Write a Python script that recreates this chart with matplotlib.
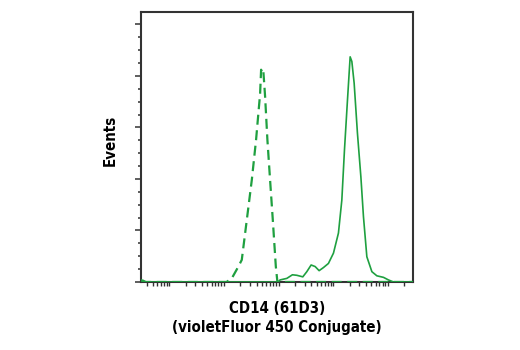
import numpy as np
import matplotlib
matplotlib.use("Agg")
import matplotlib.pyplot as plt
from matplotlib.ticker import LogLocator, MultipleLocator, NullFormatter

GREEN = "#1fa040"
AXIS = "#333333"

# isotype control (dashed), x given as log10 of fluorescence
iso_logx = [0.49, 2.05, 2.146, 2.267, 2.329, 2.420, 2.512, 2.590, 2.664, 2.682,
            2.706, 2.724, 2.755, 2.797, 2.846, 2.896, 2.951, 2.980, 5.46]
iso_events = [0.0, 0.0, 0.07, 0.30, 0.43, 1.20, 1.98, 2.76, 3.66, 4.12,
              4.04, 4.08, 3.60, 2.76, 1.98, 1.20, 0.30, 0.0, 0.0]

# CD14 stained sample (solid)
cd14_logx = [0.49, 0.53, 0.58, 2.99, 3.029, 3.152, 3.254, 3.335, 3.444, 3.517,
             3.596, 3.669, 3.742, 3.821, 3.912, 4.004, 4.095, 4.157, 4.205,
             4.260, 4.309, 4.340, 4.382, 4.442, 4.505, 4.552, 4.614, 4.706,
             4.797, 4.918, 5.009, 5.100, 5.46]
cd14_events = [0.04, 0.03, 0.0, 0.0, 0.04, 0.07, 0.14, 0.13, 0.10, 0.20,
               0.33, 0.30, 0.22, 0.28, 0.36, 0.56, 0.95, 1.59, 2.56,
               3.53, 4.37, 4.28, 3.86, 2.89, 2.04, 1.27, 0.49, 0.20,
               0.12, 0.09, 0.04, 0.0, 0.0]

fig = plt.figure(figsize=(5.2, 3.5), dpi=100)
ax = fig.add_axes([0.2712, 0.1943, 0.523, 0.7714])

ax.plot(10 ** np.array(iso_logx), iso_events, color=GREEN, lw=1.6,
        linestyle=(0, (4.5, 2.5)), zorder=3)
ax.plot(10 ** np.array(cd14_logx), cd14_events, color=GREEN, lw=1.2,
        solid_joinstyle="round", zorder=3.1)

ax.set_xscale("log")
ax.set_xlim(10 ** 0.488, 10 ** 5.457)
ax.set_ylim(0, 5.24)

ax.xaxis.set_major_locator(LogLocator(base=10, numticks=10))
ax.xaxis.set_minor_locator(LogLocator(base=10, subs=np.arange(2, 10), numticks=20))
ax.xaxis.set_major_formatter(NullFormatter())
ax.xaxis.set_minor_formatter(NullFormatter())
ax.yaxis.set_major_locator(MultipleLocator(1))
ax.yaxis.set_minor_locator(MultipleLocator(0.25))
ax.yaxis.set_major_formatter(NullFormatter())

for s in ax.spines.values():
    s.set_linewidth(1.5)
    s.set_color(AXIS)
ax.tick_params(axis="y", which="major", direction="out", length=4, width=1.1, color=AXIS)
ax.tick_params(axis="y", which="minor", direction="out", length=2.2, width=1.1, color=AXIS)
ax.tick_params(axis="x", which="both", direction="out", length=3, width=1.0, color=AXIS)

font = dict(family=["DejaVu Sans"], stretch="condensed", weight="bold", size=10.8)
ax.text(-0.112, 0.526, "Events", transform=ax.transAxes, rotation=90,
        ha="center", va="center", **font)
ax.text(0.5, -0.072, "CD14 (61D3)\n(violetFluor 450 Conjugate)", transform=ax.transAxes,
        ha="center", va="top", linespacing=1.3, **font)

fig.savefig("out.png", dpi=100)
